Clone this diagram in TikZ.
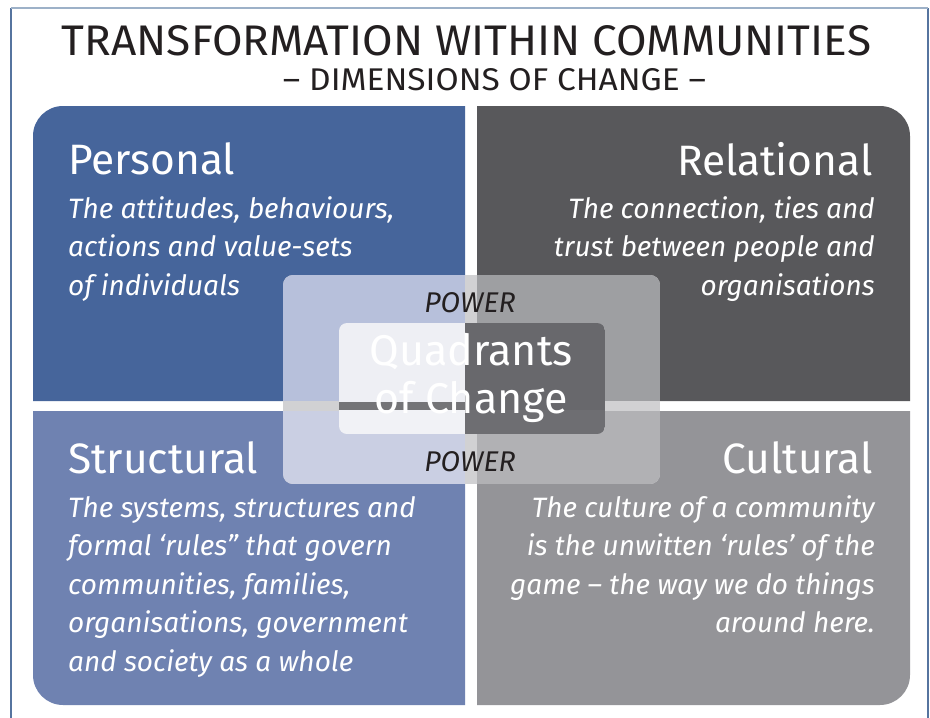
\documentclass[tikz,border=0pt]{standalone}
\usepackage{fontspec}
\usepackage{graphicx}
\setmainfont{Fira Sans}
\definecolor{blueP}{HTML}{46659B}
\definecolor{grayR}{HTML}{58585B}
\definecolor{blueS}{HTML}{6F82B1}
\definecolor{grayC}{HTML}{949498}
\definecolor{ovTL}{HTML}{B7C0DB}
\definecolor{ovBL}{HTML}{CACFE3}
\definecolor{ovTR}{HTML}{9E9FA2}
\definecolor{ovBR}{HTML}{B1B1B4}
\definecolor{ovGap}{HTML}{D1D1D3}
\definecolor{inL}{HTML}{EEEFF4}
\definecolor{inLb}{HTML}{F1F2F6}
\definecolor{inR}{HTML}{68686C}
\definecolor{inRb}{HTML}{6E6E72}
\definecolor{inStripe}{HTML}{747477}
\definecolor{ink}{HTML}{231F20}
\definecolor{frameTop}{HTML}{9DB1C8}
\definecolor{frameSide}{HTML}{56749F}
\newcommand{\linesL}[1]{\vtop{\halign{##\hfil\cr #1\crcr}}}
\newcommand{\linesR}[1]{\vtop{\halign{\hfil##\cr #1\crcr}}}
\newcommand{\linesC}[1]{\vtop{\halign{\hfil##\hfil\cr #1\crcr}}}
\tikzset{
  heading/.style={inner sep=0pt, text=white, font=\fontsize{42.5}{42.5}\selectfont},
  bodytext/.style={inner sep=0pt, text=white, font=\fontsize{28}{38.5}\itshape\selectfont},
  powertext/.style={inner sep=0pt, text=ink, font=\fontsize{28.5}{28.5}\itshape\selectfont},
}
\begin{document}
\begin{tikzpicture}[x=1pt,y=-1pt]
\useasboundingbox (0,0) rectangle (930,718);
\fill[white] (0,0) rectangle (930,718);
% frame
\draw[frameSide, line width=1.2pt] (11,718) -- (11,8);
\draw[frameSide, line width=1.2pt] (928,8) -- (928,718);
\draw[frameTop, line width=1.5pt] (11,8) -- (928,8);
% title
\node[inner sep=0pt, anchor=base, text=ink] (title) at (466.5,55)
  {\resizebox{809pt}{30pt}{TRANSFORMATION WITHIN COMMUNITIES}};
\node[inner sep=0pt, anchor=base, text=ink] (subtitle) at (494.5,90)
  {\resizebox{423pt}{22pt}{– DIMENSIONS OF CHANGE –}};
% quadrants
\fill[blueP] (33,401) -- (33,136) arc[start angle=180,end angle=270,radius=30] -- (465,106) -- (465,401) -- cycle;
\fill[grayR] (477,401) -- (477,106) -- (880,106) arc[start angle=270,end angle=360,radius=30] -- (910,401) -- cycle;
\fill[blueS] (33,411) -- (465,411) -- (465,705) -- (63,705) arc[start angle=90,end angle=180,radius=30] -- cycle;
\fill[grayC] (477,411) -- (910,411) -- (910,675) arc[start angle=0,end angle=90,radius=30] -- (477,705) -- cycle;
% overlay
\begin{scope}
  \clip[rounded corners=10pt] (283,275) rectangle (660,484);
  \fill[ovGap] (283,275) rectangle (660,484);
  \fill[ovTL] (283,275) rectangle (465,401);
  \fill[ovTR] (477,275) rectangle (660,401);
  \fill[ovBL] (283,411) rectangle (465,484);
  \fill[ovBR] (477,411) rectangle (660,484);
\end{scope}
\begin{scope}
  \clip[rounded corners=8pt] (339,323) rectangle (605,434);
  \fill[inL] (339,323) rectangle (465,402);
  \fill[inStripe] (339,402) rectangle (465,410);
  \fill[inLb] (339,410) rectangle (465,434);
  \fill[inR] (465,323) rectangle (605,410);
  \fill[inRb] (465,410) rectangle (605,434);
\end{scope}
\node[inner sep=0pt, text=white, font=\fontsize{43}{48}\selectfont, anchor=base] (quad) at (471,365) {\linesC{Quadrants\cr of Change}};
\node[powertext, anchor=base] (powerTop) at (470,312) {POWER};
\node[powertext, anchor=base] (powerBot) at (470,471) {POWER};
% headings
\node[heading, anchor=base west] (personal) at (68,174) {Personal};
\node[heading, anchor=base east] (relational) at (873,175) {Relational};
\node[heading, anchor=base west] (structural) at (68,473) {Structural};
\node[heading, anchor=base east] (cultural) at (873,473) {Cultural};
% body texts
\node[bodytext, anchor=base west] (personalText) at (68,218)
  {\linesL{The attitudes, behaviours,\cr actions and value-sets\cr of individuals}};
\node[bodytext, anchor=base east] (relationalText) at (875,218)
  {\linesR{The connection, ties and\cr trust between people and\cr organisations}};
\node[bodytext, anchor=base west] (structuralText) at (68,517)
  {\linesL{The systems, structures and\cr formal ‘rules” that govern\cr communities, families,\cr organisations, government\cr and society as a whole}};
\node[bodytext, anchor=base east] (culturalText) at (875,517)
  {\linesR{The culture of a community\cr is the unwitten ‘rules’ of the\cr game – the way we do things\cr around here.}};
\end{tikzpicture}
\end{document}
